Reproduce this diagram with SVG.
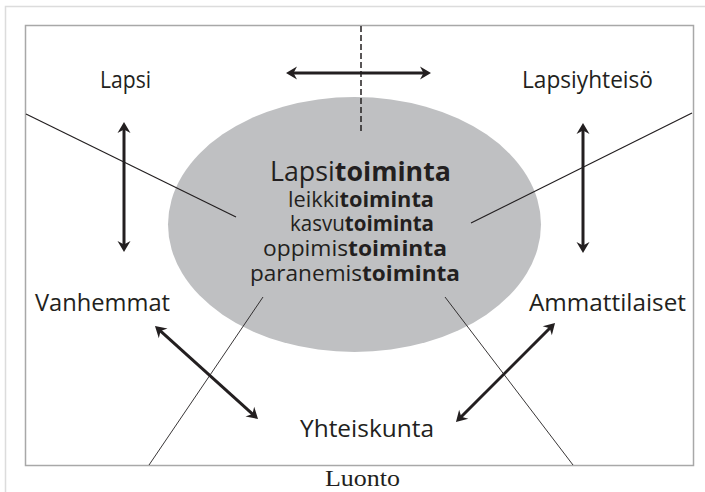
<svg xmlns="http://www.w3.org/2000/svg" width="705" height="492" viewBox="0 0 705 492">
<style>
.lbl{font-family:"Open Sans","Noto Sans","DejaVu Sans",sans-serif;font-size:23px;fill:#231f20}
.ctr{font-family:"Open Sans","Noto Sans","DejaVu Sans",sans-serif;fill:#231f20}
.b{font-weight:bold}
.serif{font-family:"Liberation Serif","Times New Roman",serif;font-size:23px;fill:#231f20}
.thin{stroke:#231f20;stroke-width:1.2;fill:none}
.thinner{stroke:#231f20;stroke-width:0.9;fill:none}
.arr{stroke:#231f20;stroke-width:3;fill:none;marker-start:url(#ah);marker-end:url(#ah)}
</style>
<defs>
<marker id="ah" markerUnits="userSpaceOnUse" orient="auto-start-reverse" markerWidth="20" markerHeight="20" refX="0" refY="0" overflow="visible">
<path d="M5,0 L-6,-6.5 L-2.5,0 L-6,6.5 Z" fill="#231f20"/>
</marker>
</defs>
<rect width="705" height="492" fill="#fff"/>
<path d="M5.5,492 V6.5 H705" fill="none" stroke="#dcdcdc" stroke-width="1.5"/>
<rect x="25.5" y="25.5" width="668" height="440" fill="#fff" stroke="#a8a8a8" stroke-width="1.5"/>

<g id="center">
<ellipse cx="354.5" cy="224.5" rx="186.5" ry="127.5" fill="#bfc0c2"/>
</g>

<g id="connectors">
<line class="thin" x1="26" y1="114" x2="236" y2="217"/>
<line class="thin" x1="692" y1="113" x2="471" y2="223"/>
<line class="thinner" x1="263" y1="297" x2="149" y2="465"/>
<line class="thinner" x1="445" y1="297" x2="573" y2="465"/>
<line x1="361" y1="26" x2="361" y2="133" stroke="#231f20" stroke-width="1.5" stroke-dasharray="6 3"/>
<line class="arr" x1="291" y1="73" x2="426" y2="73"/>
<line class="arr" x1="124" y1="127" x2="124" y2="247"/>
<line class="arr" x1="583" y1="128" x2="583" y2="248"/>
<line class="arr" x1="158.7" y1="329.4" x2="254.3" y2="415.6"/>
<line class="arr" x1="551.5" y1="326.5" x2="459.5" y2="418.5"/>
</g>

<g id="center-text">
<text class="ctr" x="270" y="181" font-size="27" textLength="181" lengthAdjust="spacingAndGlyphs">Lapsi<tspan class="b">toiminta</tspan></text>
<text class="ctr" x="288" y="207" font-size="21" textLength="146" lengthAdjust="spacingAndGlyphs">leikki<tspan class="b">toiminta</tspan></text>
<text class="ctr" x="290" y="231" font-size="21" textLength="144" lengthAdjust="spacingAndGlyphs">kasvu<tspan class="b">toiminta</tspan></text>
<text class="ctr" x="263" y="256" font-size="21" textLength="184" lengthAdjust="spacingAndGlyphs">oppimis<tspan class="b">toiminta</tspan></text>
<text class="ctr" x="250" y="281" font-size="21" textLength="210" lengthAdjust="spacingAndGlyphs">paranemis<tspan class="b">toiminta</tspan></text>
</g>

<g id="lapsi"><text class="lbl" x="100" y="88" textLength="51" lengthAdjust="spacingAndGlyphs">Lapsi</text></g>
<g id="lapsiyhteiso"><text class="lbl" x="522" y="88" textLength="131" lengthAdjust="spacingAndGlyphs">Lapsiyhteisö</text></g>
<g id="vanhemmat"><text class="lbl" x="35" y="311" textLength="135" lengthAdjust="spacingAndGlyphs">Vanhemmat</text></g>
<g id="ammattilaiset"><text class="lbl" x="529" y="311" textLength="157" lengthAdjust="spacingAndGlyphs">Ammattilaiset</text></g>
<g id="yhteiskunta"><text class="lbl" x="300" y="437" textLength="134" lengthAdjust="spacingAndGlyphs">Yhteiskunta</text></g>
<g id="luonto"><text class="serif" x="325" y="486" textLength="75" lengthAdjust="spacingAndGlyphs">Luonto</text></g>
</svg>
